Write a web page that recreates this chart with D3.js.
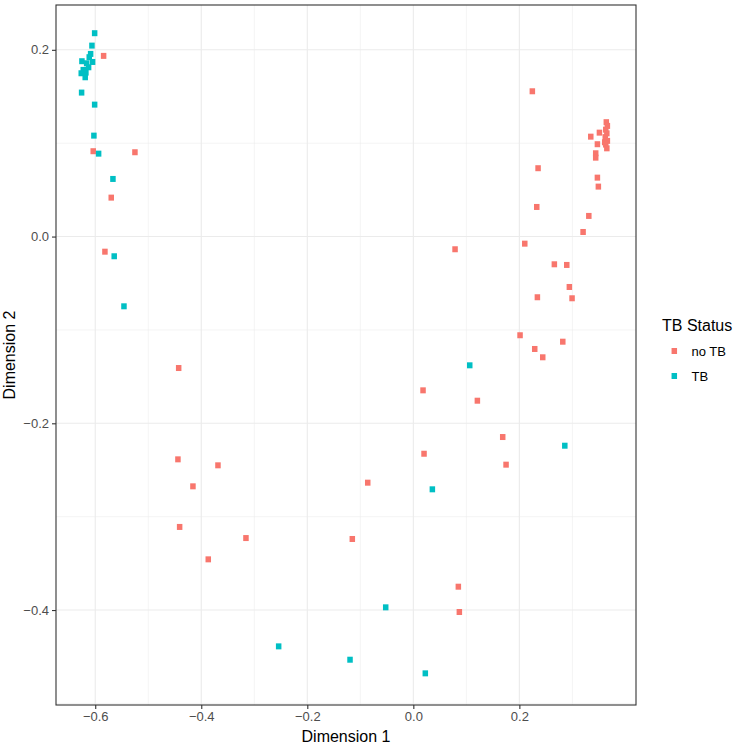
<!DOCTYPE html>
<html>
<head>
<meta charset="utf-8">
<script src="https://cdn.jsdelivr.net/npm/d3@7"></script>
<style>
  html, body { margin: 0; padding: 0; background: #ffffff; }
  svg { display: block; font-family: "Liberation Sans", Arial, Helvetica, sans-serif; }
</style>
</head>
<body>
<svg id="chart" width="736" height="745"></svg>
<script>
// ---- Data ----
const noTB_x = [-0.5842,-0.6038,-0.5251,-0.5698,-0.5817,-0.4426,-0.444,-0.3685,-0.4157,-0.4408,-0.3157,-0.3868,-0.086,-0.1151,
  0.2013,0.229,0.2441,0.2819,0.0183,0.1208,0.1686,0.1749,0.0202,0.0849,0.0868,0.2245,0.2353,0.2328,0.0787,0.2102,0.2660,0.2894,
  0.2943,0.234,0.2994,0.3347,0.351,0.3472,0.344,0.344,0.3472,0.349,0.331,0.3202,
  0.364,0.366,0.363,0.365,0.362,0.366,0.363,0.365,0.361];
const noTB_y = [0.1935,0.0914,0.0903,0.0417,-0.0162,-0.1408,-0.2386,-0.245,-0.2675,-0.311,-0.3229,-0.3457,-0.2636,-0.3239,
  -0.1057,-0.1204,-0.1293,-0.1126,-0.1647,-0.1758,-0.2147,-0.2443,-0.2326,-0.375,-0.4021,0.1556,0.0732,0.0317,-0.0136,-0.0076,-0.0297,-0.0304,
  -0.054,-0.065,-0.0661,0.107,0.1113,0.0989,0.0892,0.0845,0.0631,0.0535,0.0221,0.0049,
  0.1225,0.1185,0.1145,0.1105,0.1065,0.1025,0.0985,0.0945,0.101];
const TB_x = [-0.6011,-0.6062,-0.6087,-0.6113,-0.605,-0.6251,-0.6162,-0.6125,-0.6226,-0.6264,-0.6176,-0.6189,-0.6257,-0.6011,
  -0.6025,-0.5936,-0.5666,-0.5642,-0.5458,-0.0521,-0.254,-0.1194,0.1064,0.2857,0.0359,0.0226];
const TB_y = [0.2178,0.2045,0.1956,0.1921,0.187,0.1878,0.1856,0.1813,0.1785,0.1749,0.1756,0.1706,0.1542,0.1413,
  0.1081,0.0888,0.0617,-0.0211,-0.0747,-0.3971,-0.4389,-0.4532,-0.1379,-0.224,-0.2707,-0.4678];

const groups = ["no TB", "TB"];
const groupColors = ["#F8766D", "#00BFC4"];
const xMajor = [-0.6, -0.4, -0.2, 0.0, 0.2];
const xMinor = [-0.5, -0.3, -0.1, 0.1, 0.3];
const yMajor = [-0.4, -0.2, 0.0, 0.2];
const yMinor = [-0.5, -0.3, -0.1, 0.1];
const xLimits = [-0.674, 0.42];
const yLimits = [-0.5017, 0.248];

// ---- Layout ----
const svg = d3.select("#chart");
const panel = { left: 56, top: 5, right: 636, bottom: 705 };

const x = d3.scaleLinear().domain(xLimits).range([panel.left, panel.right]);
const y = d3.scaleLinear().domain(yLimits).range([panel.bottom, panel.top]);
const color = d3.scaleOrdinal().domain(groups).range(groupColors);

// background
svg.append("rect").attr("x", panel.left).attr("y", panel.top)
  .attr("width", panel.right - panel.left).attr("height", panel.bottom - panel.top)
  .attr("fill", "#ffffff");

const grid = svg.append("g");
// minor grid
grid.selectAll("line.xminor").data(xMinor).enter().append("line")
  .attr("x1", d => x(d)).attr("x2", d => x(d)).attr("y1", panel.top).attr("y2", panel.bottom)
  .attr("stroke", "#ebebeb").attr("stroke-width", 0.55);
grid.selectAll("line.yminor").data(yMinor).enter().append("line")
  .attr("y1", d => y(d)).attr("y2", d => y(d)).attr("x1", panel.left).attr("x2", panel.right)
  .attr("stroke", "#ebebeb").attr("stroke-width", 0.55);
// major grid
grid.selectAll("line.xmajor").data(xMajor).enter().append("line")
  .attr("x1", d => x(d)).attr("x2", d => x(d)).attr("y1", panel.top).attr("y2", panel.bottom)
  .attr("stroke", "#ebebeb").attr("stroke-width", 1.1);
grid.selectAll("line.ymajor").data(yMajor).enter().append("line")
  .attr("y1", d => y(d)).attr("y2", d => y(d)).attr("x1", panel.left).attr("x2", panel.right)
  .attr("stroke", "#ebebeb").attr("stroke-width", 1.1);

// points
const pts = [];
noTB_x.forEach((v, i) => pts.push({ x: v, y: noTB_y[i], g: "no TB" }));
TB_x.forEach((v, i) => pts.push({ x: v, y: TB_y[i], g: "TB" }));
const sw = 5.5, sh = 6;
svg.append("g").selectAll("rect").data(pts).enter().append("rect")
  .attr("x", d => x(d.x) - sw / 2).attr("y", d => y(d.y) - sh / 2)
  .attr("width", sw).attr("height", sh)
  .attr("fill", d => color(d.g));

// panel border
svg.append("rect").attr("x", panel.left).attr("y", panel.top)
  .attr("width", panel.right - panel.left).attr("height", panel.bottom - panel.top)
  .attr("fill", "none").attr("stroke", "#333333").attr("stroke-width", 1.1);

// axes
const fmt = d3.format(".1f");
const fmtMinus = d => fmt(d).replace("-", "\u2212");
const xAxis = d3.axisBottom(x).tickValues(xMajor).tickSize(4).tickPadding(3).tickFormat(fmtMinus);
const yAxis = d3.axisLeft(y).tickValues(yMajor).tickSize(4).tickPadding(3).tickFormat(fmtMinus);

const gx = svg.append("g").attr("transform", `translate(0,${panel.bottom})`).call(xAxis);
const gy = svg.append("g").attr("transform", `translate(${panel.left},0)`).call(yAxis);
[gx, gy].forEach(g => {
  g.select(".domain").remove();
  g.selectAll(".tick line").attr("stroke", "#333333").attr("stroke-width", 1.1);
  g.selectAll(".tick text").attr("fill", "#4d4d4d").style("font-size", "13px")
    .style("font-family", "'Liberation Sans', Arial, sans-serif");
});

// axis titles
svg.append("text").attr("x", (panel.left + panel.right) / 2).attr("y", 742)
  .attr("text-anchor", "middle").style("font-size", "16px").attr("fill", "#000")
  .text("Dimension 1");
svg.append("text").attr("transform", `translate(15,${(panel.top + panel.bottom) / 2}) rotate(-90)`)
  .attr("text-anchor", "middle").style("font-size", "16px").attr("fill", "#000")
  .text("Dimension 2");

// legend
const lg = svg.append("g");
lg.append("text").attr("x", 662).attr("y", 331).style("font-size", "16px").attr("fill", "#000")
  .text("TB Status");
const keyY = [351, 376];
groups.forEach((g, i) => {
  lg.append("rect").attr("x", 674.3 - sw / 2).attr("y", keyY[i] - sh / 2)
    .attr("width", sw).attr("height", sh).attr("fill", color(g));
  lg.append("text").attr("x", 691.5).attr("y", keyY[i] + 4.5)
    .style("font-size", "13px").attr("fill", "#000").text(g);
});
</script>
</body>
</html>
